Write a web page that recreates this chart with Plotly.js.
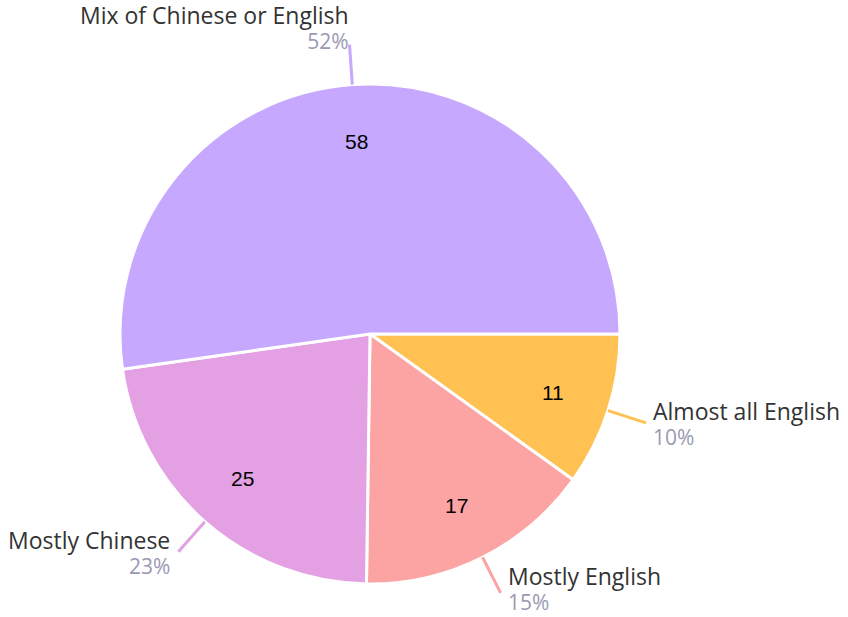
<!DOCTYPE html>
<html>
<head>
<meta charset="utf-8">
<script src="https://cdn.plot.ly/plotly-3.0.1.min.js"></script>
<style>
  html, body { margin: 0; padding: 0; background: #fff; }
  #chart { width: 848px; height: 617px; }
</style>
</head>
<body>
<div id="chart"></div>
<script>
// slices, clockwise from 3 o'clock
const labels = ['Almost all English', 'Mostly English', 'Mostly Chinese', 'Mix of Chinese or English'];
const values = [11, 17, 25, 58];
const colors = ['#ffc152', '#fca3a3', '#e3a0e3', '#c6a8ff'];

const W = 848, H = 617;
const cx = 370, cy = 334, R = 250; // pie centre and radius in px

const total = values.reduce((a, b) => a + b, 0);

const pie = {
  type: 'pie',
  labels: labels,
  values: values,
  sort: false,
  direction: 'clockwise',
  rotation: 90,
  marker: { colors: colors, line: { color: '#ffffff', width: 3 } },
  textinfo: 'none',
  hoverinfo: 'none',
  domain: { x: [(cx - R) / W, (cx + R) / W], y: [(H - cy - R) / H, (H - cy + R) / H] }
};

// values inside, leader lines + outside labels
const shapes = [];
const annotations = [];
const px = (x) => x / W, py = (y) => 1 - y / H;
let cum = 0;
values.forEach((v, i) => {
  const mid = (cum + v / 2) / total * 2 * Math.PI;
  cum += v;
  const c = Math.cos(mid), s = Math.sin(mid);

  annotations.push({
    xref: 'paper', yref: 'paper', x: px(cx + 0.77 * R * c), y: py(cy + 0.77 * R * s),
    xanchor: 'center', yanchor: 'middle', showarrow: false, text: String(v),
    font: { family: 'Liberation Sans, Arial, sans-serif', size: 21, color: '#000' }
  });

  const x0 = cx + R * c, y0 = cy + R * s;
  const x1 = cx + (R + 40) * c, y1 = cy + (R + 40) * s;
  shapes.push({
    type: 'line', xref: 'paper', yref: 'paper',
    x0: px(x0), y0: py(y0), x1: px(x1), y1: py(y1),
    line: { color: colors[i], width: 3 }
  });

  const pct = Math.round(v / total * 100) + '%';
  const top = Math.abs(c) < 0.2 && s < 0;
  let tx, anchor, ty;
  if (top) {
    tx = x1 + 1; anchor = 'right'; ty = y1 - 18;
  } else {
    anchor = c >= 0 ? 'left' : 'right';
    tx = c >= 0 ? x1 + 6 : x1 - 7;
    ty = Math.min(y1, H - 29); // keep bottom label inside the page
  }
  annotations.push({
    xref: 'paper', yref: 'paper', x: px(tx), y: py(ty),
    xanchor: anchor, yanchor: 'middle', align: anchor, showarrow: false,
    borderpad: 0,
    text: '<span style="font-size:23px">' + labels[i] + '</span><br>' +
          '<span style="font-size:21px;color:#9a9ab2">' + pct + '</span>',
    font: { family: 'Open Sans, sans-serif', size: 19.5, color: '#333333' }
  });
});

const layout = {
  width: W, height: H,
  margin: { l: 0, r: 0, t: 0, b: 0 },
  showlegend: false,
  paper_bgcolor: '#ffffff',
  shapes: shapes,
  annotations: annotations
};

Plotly.newPlot('chart', [pie], layout, { displayModeBar: false, staticPlot: true });
</script>
</body>
</html>
